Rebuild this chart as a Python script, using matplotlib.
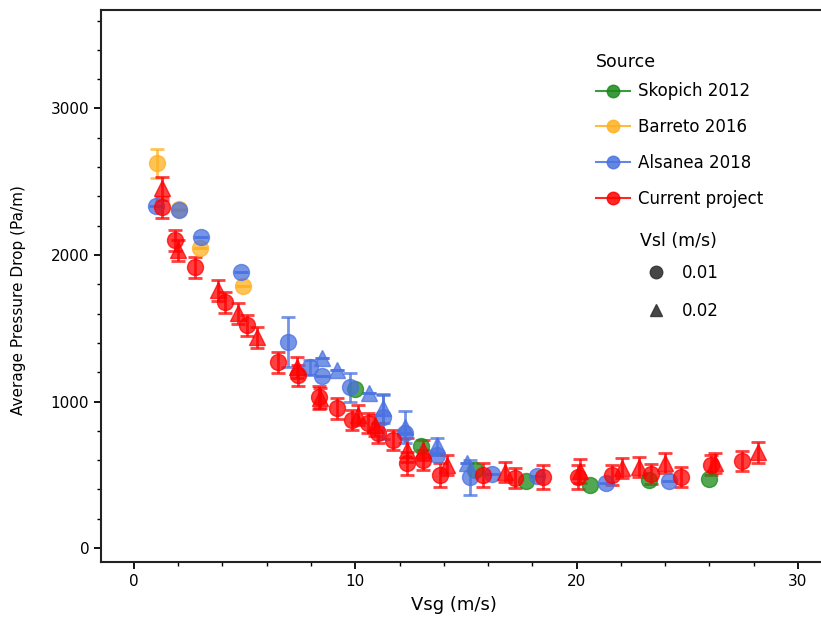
import matplotlib.pyplot as plt
import numpy as np
from matplotlib.lines import Line2D
from matplotlib.ticker import MultipleLocator

# Skopich 2012, Vsl = 0.01
sk_vsg = [9.99, 12.97, 15.4, 17.7, 20.6, 23.27, 25.98]
sk_dp = [1084, 695, 532, 457, 429, 464, 470]

# Barreto 2016, Vsl = 0.01
ba_vsg = [1.04, 2.03, 2.98, 4.93]
ba_dp = [2625, 2311, 2045, 1786]
ba_err = [100, 0, 0, 0]

# Alsanea 2018
al1_vsg = [0.99, 2.03, 3.03, 4.83, 6.96, 7.95, 8.5, 9.76, 11.25, 12.25, 13.7, 15.18, 16.18, 18.2, 21.33, 24.17]
al1_dp = [2331, 2304, 2120, 1881, 1404, 1234, 1172, 1098, 893, 784, 634, 484, 504, 491, 443, 457]
al1_err = [0, 0, 0, 0, 170, 50, 0, 100, 150, 0, 0, 120, 0, 0, 0, 0]
al2_vsg = [8.5, 9.17, 10.62, 11.25, 12.25, 13.7, 15.05]
al2_dp = [1295, 1213, 1057, 954, 825, 702, 579]
al2_err = [0, 0, 0, 100, 110, 50, 0]

# Current project
cp1_vsg = [1.27, 1.85, 2.76, 4.11, 5.1, 6.5, 7.41, 8.36, 9.17, 9.85, 10.57, 11.03, 11.7, 12.34,
           13.06, 13.83, 15.77, 17.22, 18.48, 20.06, 21.6, 23.36, 24.72, 26.07, 27.47]
cp1_dp = [2325, 2100, 1916, 1677, 1520, 1268, 1179, 1029, 954, 873, 852, 784, 736, 579,
          600, 498, 498, 477, 484, 484, 498, 504, 484, 566, 593]
cp1_err = [70, 70, 70, 70, 70, 70, 70, 80, 70, 70, 70, 70, 70, 80,
           70, 80, 80, 70, 80, 80, 70, 70, 70, 70, 70]
cp2_vsg = [1.27, 1.99, 3.8, 4.7, 5.56, 7.37, 8.4, 10.12, 10.9, 12.34, 13.06, 14.14,
           16.76, 20.15, 22.05, 22.82, 24.0, 26.25, 28.2]
cp2_dp = [2454, 2031, 1759, 1602, 1438, 1234, 1023, 907, 838, 668, 668, 566,
          518, 525, 545, 552, 579, 579, 654]
cp2_err = [80, 70, 70, 70, 70, 70, 70, 70, 70, 80, 70, 70,
           70, 80, 70, 70, 70, 70, 70]

GREEN = '#1a8a1a'
ORANGE = '#ffb020'
BLUE = '#4a72e0'
RED = '#ff0000'

fig = plt.figure(figsize=(8.21, 6.18), dpi=100)
ax = fig.add_axes([0.123, 0.0906, 0.877, 0.894])

ms = 11.5
kw = dict(ls='none', alpha=0.75, elinewidth=2, capsize=5, capthick=2, markersize=ms)

ax.errorbar(sk_vsg, sk_dp, fmt='o', color=GREEN, **kw)
ax.errorbar(ba_vsg, ba_dp, yerr=ba_err, fmt='o', color=ORANGE, **kw)
ax.errorbar(al1_vsg, al1_dp, yerr=al1_err, fmt='o', color=BLUE, **kw)
ax.errorbar(al2_vsg, al2_dp, yerr=al2_err, fmt='^', color=BLUE, **kw)
ax.errorbar(cp1_vsg, cp1_dp, yerr=cp1_err, fmt='o', color=RED, **kw)
ax.errorbar(cp2_vsg, cp2_dp, yerr=cp2_err, fmt='^', color=RED, **kw)

ax.set_xlim(-1.49, 31.04)
ax.set_ylim(-95, 3675)
ax.xaxis.set_major_locator(MultipleLocator(10))
ax.xaxis.set_minor_locator(MultipleLocator(2))
ax.yaxis.set_major_locator(MultipleLocator(1000))
ax.yaxis.set_minor_locator(MultipleLocator(200))
ax.tick_params(which='major', length=5, width=1.3, labelsize=11)
ax.tick_params(which='minor', length=3, width=1)
ax.spines['right'].set_visible(False)
for s in ['left', 'bottom', 'top']:
    ax.spines[s].set_linewidth(1.5)
    ax.spines[s].set_color('#222222')

ax.set_xlabel('Vsg (m/s)', fontsize=13)
ax.set_ylabel('Average Pressure Drop (Pa/m)', fontsize=11)
ax.xaxis.set_label_coords(0.49, -0.061)
ax.yaxis.set_label_coords(-0.104, 0.475)

# source legend
src = [('Skopich 2012', GREEN), ('Barreto 2016', ORANGE),
       ('Alsanea 2018', BLUE), ('Current project', RED)]
h1 = [Line2D([], [], color=c, marker='o', markersize=9, lw=1.5, alpha=0.85) for _, c in src]
fig.text(596 / 821, 1 - 62 / 618, 'Source', fontsize=12.5, ha='left', va='center')
fig.legend(h1, [n for n, _ in src], loc='upper left',
           bbox_to_anchor=(0.716, 0.880), frameon=False, fontsize=12,
           borderpad=0, labelspacing=1.07, handletextpad=0.5)

# Vsl legend
h2 = [Line2D([], [], color='#333333', marker=m, ls='none', markersize=9, alpha=0.9)
      for m in ['o', '^']]
fig.text(640 / 821, 1 - 241 / 618, 'Vsl (m/s)', fontsize=12.5, ha='left', va='center')
fig.legend(h2, ['0.01', '0.02'], loc='upper left',
           bbox_to_anchor=(0.768, 0.587), frameon=False, fontsize=12,
           borderpad=0, labelspacing=1.22, handletextpad=0.6)

fig.savefig('out.png', dpi=100)
